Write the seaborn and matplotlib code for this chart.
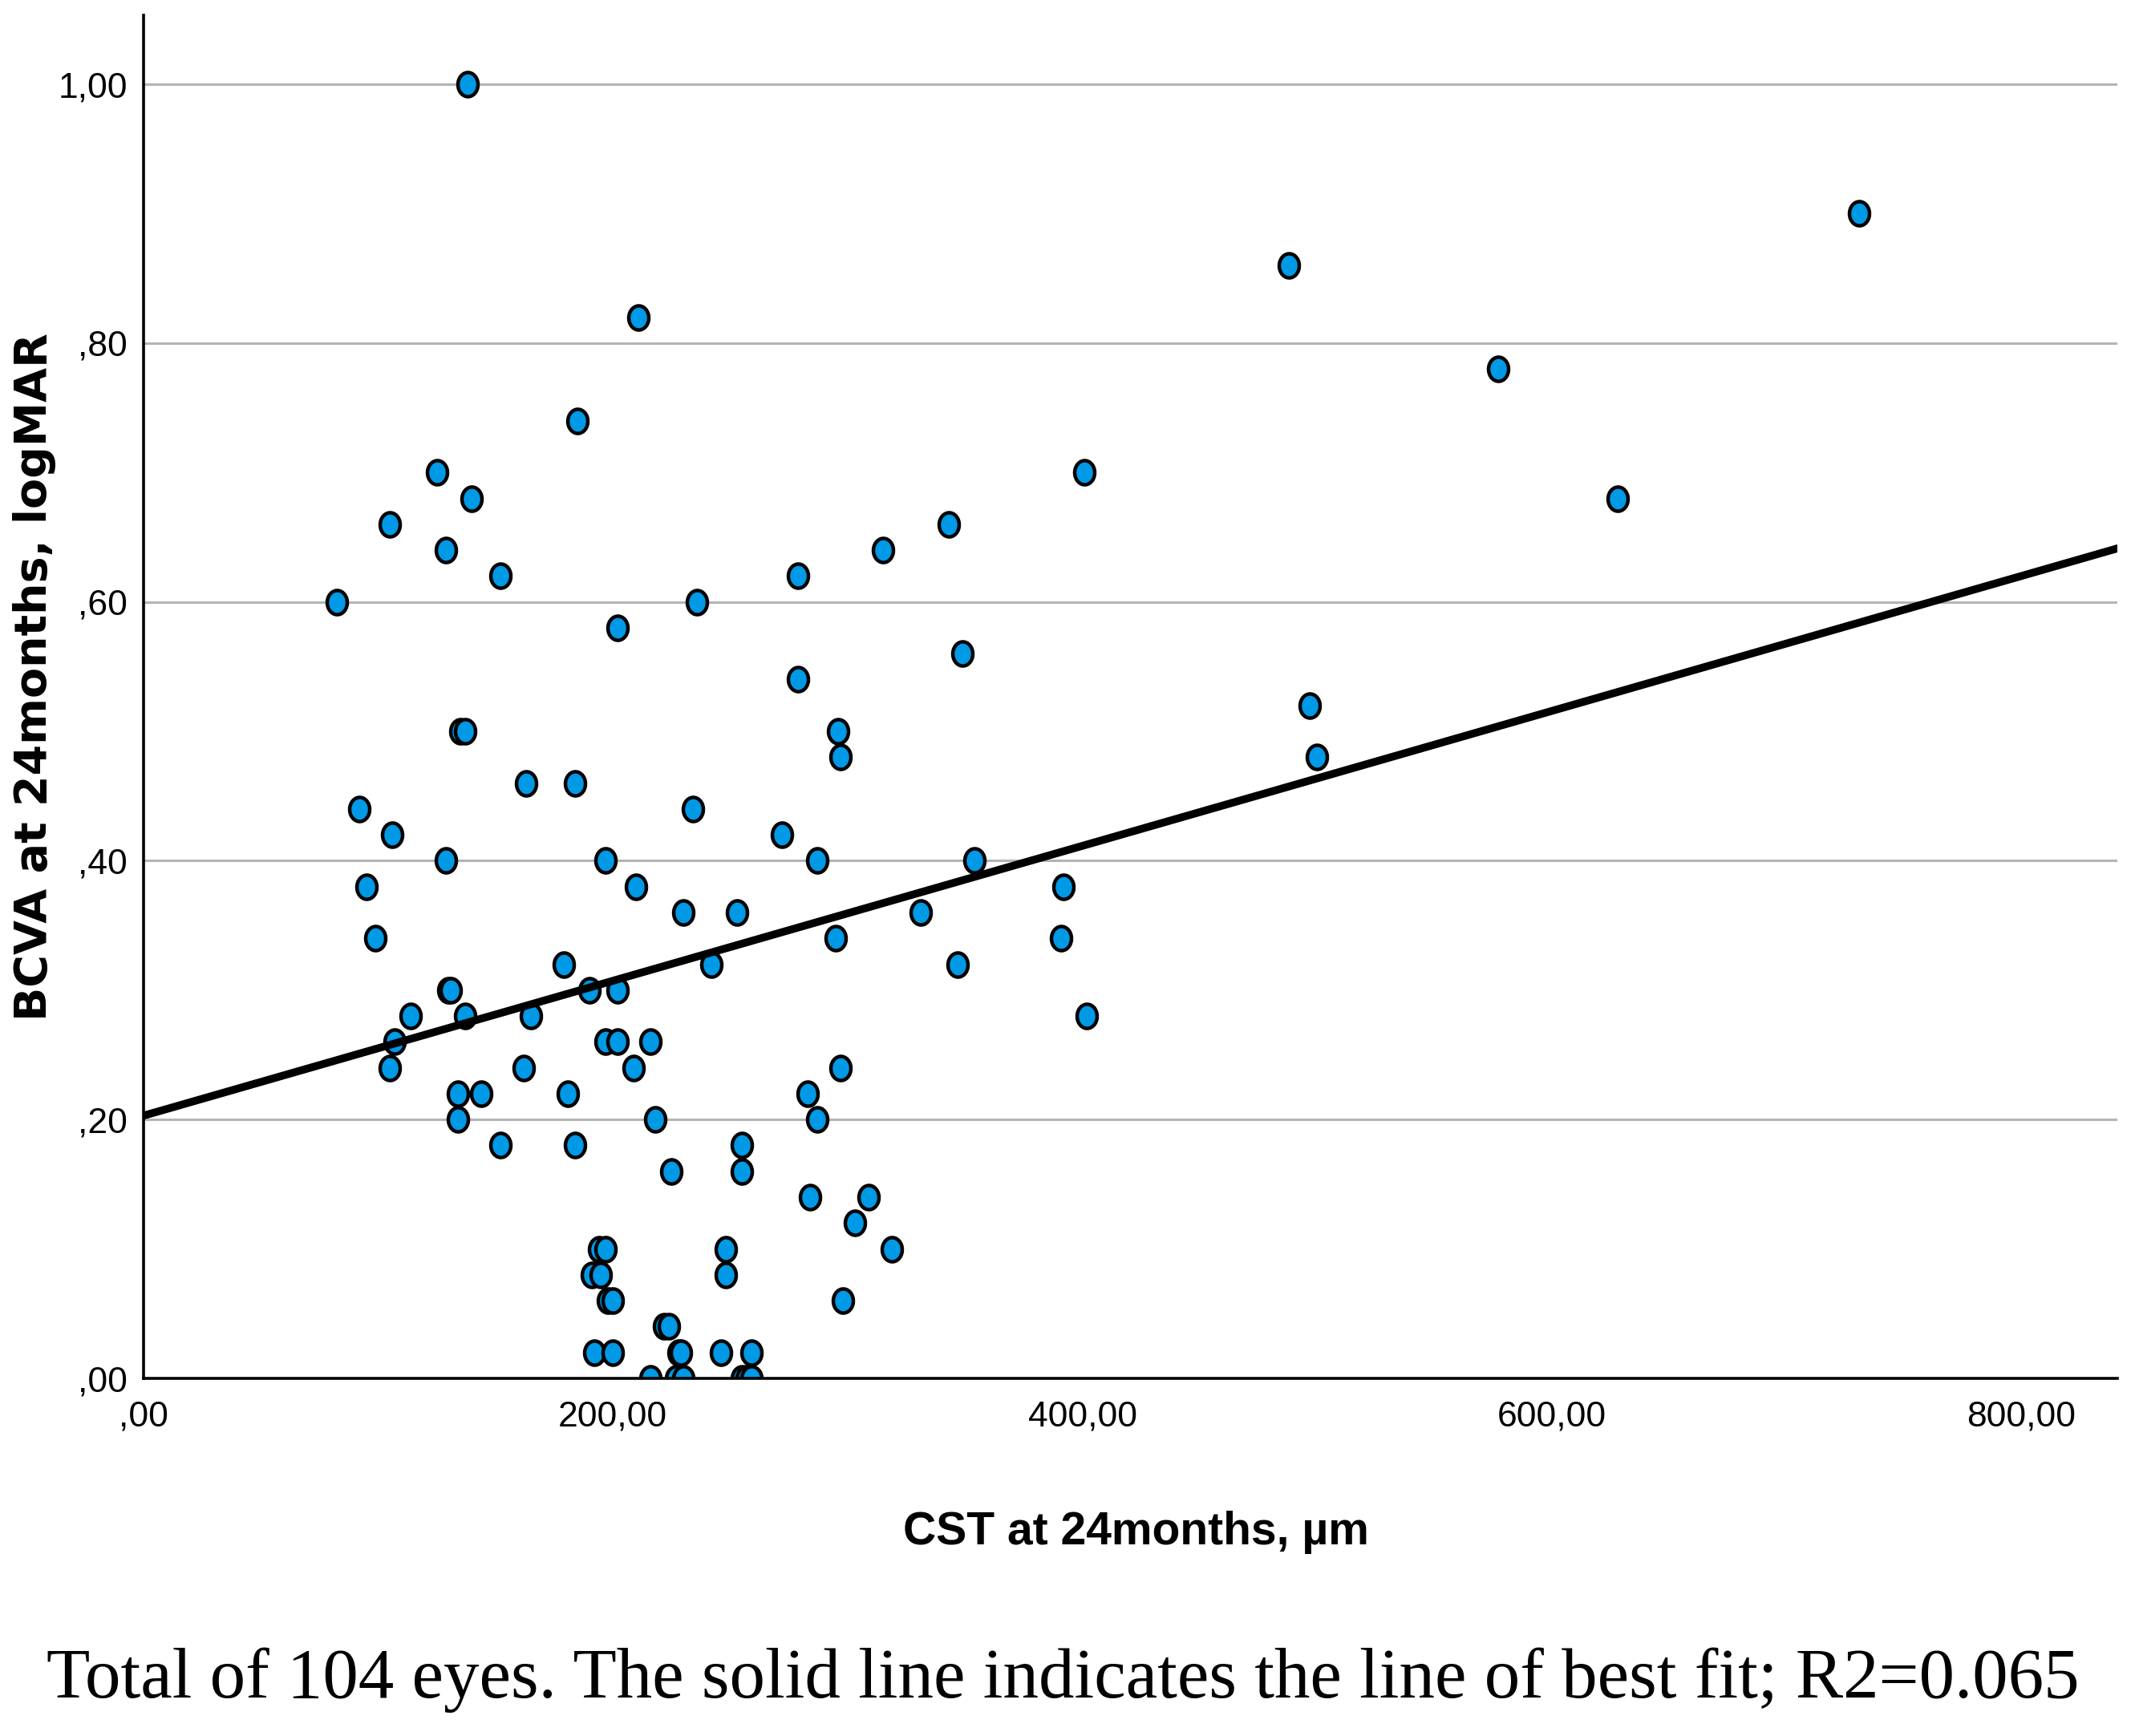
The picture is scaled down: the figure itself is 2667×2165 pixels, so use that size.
import numpy as np
import pandas as pd
import matplotlib
matplotlib.use("Agg")
import matplotlib.pyplot as plt
import seaborn as sns

# CST (µm) and BCVA (logMAR) at 24 months
cst = [82.6, 92, 95, 99, 105, 106, 107, 105, 114, 125,
       129, 129, 130, 131, 135, 137, 138, 140, 137, 134,
       134, 144, 152, 152, 163, 162, 165, 179, 181, 185,
       184, 184, 190, 191, 192, 194, 195, 197, 197, 197,
       198, 200, 200, 202, 202, 202, 209, 210, 211, 216,
       216, 218, 222, 224, 225, 228, 229, 227, 230, 230,
       234, 236, 242, 246, 248, 248, 253, 255, 255, 255,
       257, 259, 259, 272, 279, 279, 283, 284, 287, 287,
       295, 296, 297, 297, 298, 303, 309, 315, 319, 331,
       343, 347, 349, 354, 391, 392, 401, 402, 488, 497,
       500, 577, 628, 731]
bcva = [0.60, 0.44, 0.38, 0.34, 0.66, 0.42, 0.26, 0.24, 0.28, 0.70,
        0.64, 0.40, 0.30, 0.30, 0.50, 0.50, 1.00, 0.68, 0.28, 0.22,
        0.20, 0.22, 0.62, 0.18, 0.46, 0.24, 0.28, 0.32, 0.22, 0.74,
        0.46, 0.18, 0.30, 0.08, 0.02, 0.10, 0.08, 0.10, 0.26, 0.40,
        0.06, 0.06, 0.02, 0.58, 0.30, 0.26, 0.24, 0.38, 0.82, 0.26,
        0.00, 0.20, 0.04, 0.04, 0.16, 0.02, 0.02, 0.00, 0.00, 0.36,
        0.44, 0.60, 0.32, 0.02, 0.10, 0.08, 0.36, 0.18, 0.16, 0.00,
        0.00, 0.00, 0.02, 0.42, 0.62, 0.54, 0.22, 0.14, 0.40, 0.20,
        0.34, 0.50, 0.48, 0.24, 0.06, 0.12, 0.14, 0.64, 0.10, 0.36,
        0.66, 0.32, 0.56, 0.40, 0.34, 0.38, 0.70, 0.28, 0.86, 0.52,
        0.48, 0.78, 0.68, 0.90]

x_ticks = [0, 200, 400, 600, 800]
x_tick_labels = [",00", "200,00", "400,00", "600,00", "800,00"]
y_ticks = [0, 0.2, 0.4, 0.6, 0.8, 1.0]
y_tick_labels = [",00", ",20", ",40", ",60", ",80", "1,00"]

df = pd.DataFrame({"CST": cst, "BCVA": bcva})

sns.set_style("white", {"text.color": "black", "axes.labelcolor": "black",
                        "xtick.color": "black", "ytick.color": "black"})
narrow = ["Liberation Sans Narrow", "Liberation Sans", "DejaVu Sans"]

# slightly tall oval marker, like the SPSS output
t = np.linspace(0, 2 * np.pi, 64)
oval = list(zip(0.83 * np.cos(t), np.sin(t)))

fig = plt.figure(figsize=(26.67, 21.65), dpi=100)
ax = fig.add_axes([0.067, 0.206, 0.923, 0.785])
ax.set_xlim(0, 841)
ax.set_ylim(0, 1.053)

# horizontal grid
for yv in y_ticks[1:]:
    ax.axhline(yv, color="#b4b4b4", lw=2.2, zorder=0)

sns.regplot(data=df, x="CST", y="BCVA", ax=ax, ci=None, truncate=False,
            marker=oval,
            scatter_kws=dict(s=470, color="#0099e6", edgecolor="black",
                             linewidths=3.2, alpha=1, zorder=3),
            line_kws=dict(color="black", lw=7, zorder=4))

sns.despine(ax=ax)
for side in ["left", "bottom"]:
    ax.spines[side].set_color("black")
    ax.spines[side].set_linewidth(2.6)
    ax.spines[side].set_zorder(5)

ax.set_xticks(x_ticks)
ax.set_xticklabels(x_tick_labels, family=narrow, fontsize=32, color="black")
ax.set_yticks(y_ticks)
ax.set_yticklabels(y_tick_labels, family=narrow, fontsize=32, color="black")
ax.tick_params(axis="both", length=0)
ax.tick_params(axis="x", pad=20)
ax.tick_params(axis="y", pad=14)

ax.set_xlabel("CST at 24months, µm", family=narrow, fontweight="bold",
              fontsize=41, color="black")
ax.xaxis.set_label_coords(0.503, -0.097)
ax.set_ylabel("BCVA at 24months, logMAR", family="DejaVu Sans", fontweight="bold",
              fontsize=40, color="black")
ax.yaxis.set_label_coords(-0.044, 0.515)

fig.text(0.497, 0.032,
         "Total of 104 eyes. The solid line indicates the line of best fit; R2=0.065",
         ha="center", va="center", family=["Liberation Serif", "DejaVu Serif"],
         fontsize=64, color="black")

fig.savefig("out.png", dpi=100, facecolor="white")
